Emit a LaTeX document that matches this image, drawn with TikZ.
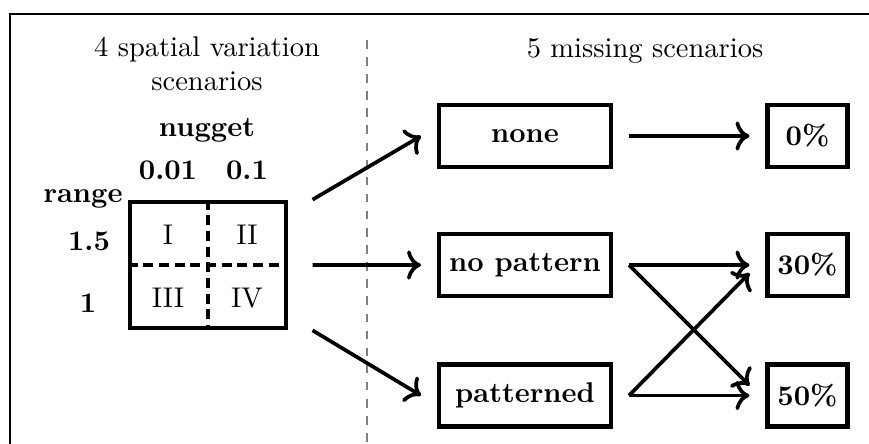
\documentclass[tikz,border=0pt]{standalone}
\usepackage{amsmath}
\usetikzlibrary{arrows.meta,positioning,calc}

\begin{document}
\begin{tikzpicture}[
  x=0.351pt, y=-0.351pt,
  >={To[scale=1.1]},
  every node/.style={font=\normalsize},
  box/.style={draw, line width=1.5pt, minimum width=60.3pt, minimum height=21.8pt, font=\bfseries},
  pct/.style={box, minimum width=28pt},
  arr/.style={->, line width=1.3pt},
  split/.style={line width=1.2pt, dash pattern=on 3.5pt off 2pt}
]
\useasboundingbox (0,0) rectangle (869,444);
\draw[line width=0.5pt] (10,444) -- (10,14) -- (869,14);
\draw[gray, line width=0.5pt, dash pattern=on 3pt off 3pt] (367,40) -- (367,444);

% left part: spatial variation
\node[align=center] (ttlL) at (207,64) {4 spatial variation\\scenarios};
\node[font=\bfseries] (nug) at (207,130) {nugget};
\node[font=\bfseries] (nugA) at (168,170) {0.01};
\node[font=\bfseries] (nugB) at (247,170) {0.1};
\node[font=\bfseries, anchor=east, inner sep=1pt] (rng) at (126,199) {range};
\node[font=\bfseries] (rngA) at (89,241) {1.5};
\node[font=\bfseries] (rngB) at (88,303) {1};

\node[draw, line width=1.4pt, minimum width=55pt, minimum height=44.5pt] (grid) at (208,265) {};
\draw[split] (grid.north) -- (grid.south);
\draw[split] (grid.west) -- (grid.east);
\node (q1) at (168,235) {I};
\node (q2) at (247,235) {II};
\node (q3) at (168,298) {III};
\node (q4) at (247,298) {IV};

% right part: missing scenarios
\node (ttlR) at (645,51) {5 missing scenarios};
\node[box] (none) at (525,136) {none};
\node[box, below=22pt of none] (nopat) {no pattern};
\node[box, below=22.5pt of nopat] (pat) {patterned};
\node[pct, right=53.5pt of none] (p0) {0\%};
\node[pct, right=53.5pt of nopat] (p30) {30\%};
\node[pct, right=53.5pt of pat] (p50) {50\%};

\draw[arr] ([xshift=8.5pt]grid.north east) -- ([xshift=-5.6pt]none.west);
\draw[arr] ([xshift=8.5pt]grid.east) -- ([xshift=-5.6pt]nopat.west);
\draw[arr] ([xshift=8.5pt]grid.south east) -- ([xshift=-5.6pt]pat.west);

\draw[arr] ([xshift=5.6pt]none.east) -- ([xshift=-5.6pt]p0.west);
\draw[arr] ([xshift=5.6pt]nopat.east) -- ([xshift=-5.6pt]p30.west);
\draw[arr] ([xshift=5.6pt]nopat.east) -- ([xshift=-5.6pt,yshift=3.5pt]p50.west);
\draw[arr] ([xshift=5.6pt]pat.east) -- ([xshift=-5.6pt,yshift=-2.8pt]p30.west);
\draw[arr] ([xshift=5.6pt]pat.east) -- ([xshift=-5.6pt]p50.west);

\end{tikzpicture}
\end{document}
